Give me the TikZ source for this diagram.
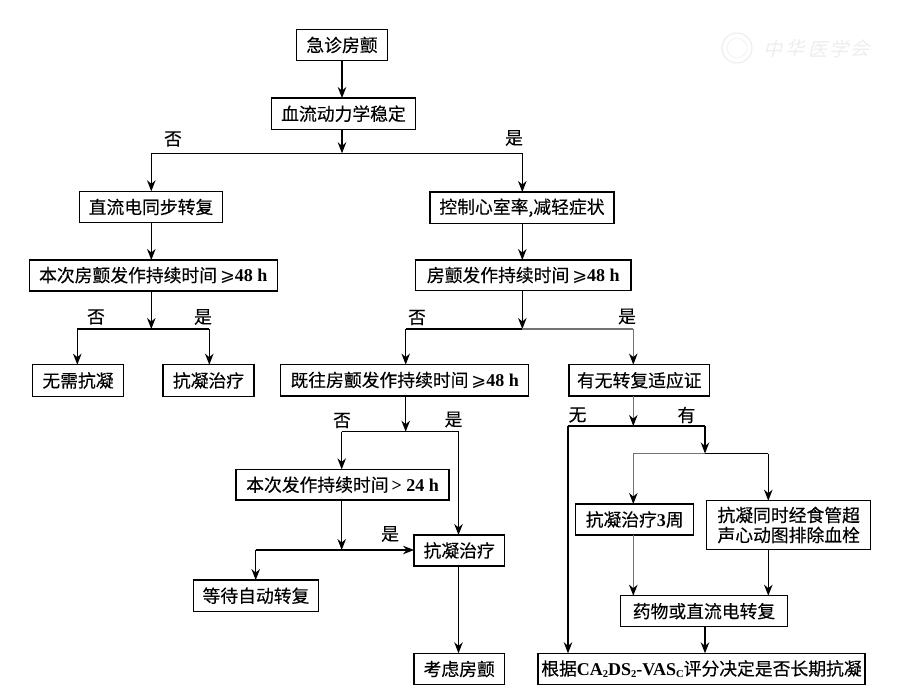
\documentclass[tikz,border=0pt]{standalone}
\usepackage{fontspec}
\usetikzlibrary{arrows.meta}
\newfontfamily\cjk[FakeBold=0.25]{Noto Sans CJK SC}
\newfontfamily\cjkwm{Noto Sans CJK SC}
\newfontfamily\latinb{Liberation Serif Bold}
\newfontfamily\symb{DejaVu Sans}
\newcommand{\la}[1]{{\fontsize{18}{20}\selectfont\latinb #1}}
\newcommand{\lasub}[1]{\raisebox{-2.5pt}{\fontsize{10.5}{12}\selectfont\latinb #1}}
\tikzset{
  x=1pt,y=-1pt,
  box/.style={draw=black,line width=1.3pt,fill=white,inner sep=0pt,outer sep=0pt,align=center,
    font=\fontsize{17.8}{20}\selectfont\cjk},
  lab/.style={inner sep=0pt,font=\fontsize{17.8}{20}\selectfont\cjk},
  wm/.style={inner sep=0pt,text=black!7,font=\fontsize{19}{20}\selectfont\cjkwm},
  ar/.style={-{Stealth[length=11pt,width=8.5pt,inset=3.5pt,color=black]}},
  thick line/.style={draw=black,line width=1.3pt},
  thin line/.style={draw=black,line width=1.05pt},
  gray line/.style={draw=black!55,line width=1.1pt},
}
\begin{document}
\begin{tikzpicture}
\useasboundingbox (0,0) rectangle (900,691);
% boxes
\node[box,minimum width=90.6pt,minimum height=31.4pt] (start) at (342,45) {急诊房颤};
\node[box,minimum width=143.6pt,minimum height=31.3pt] (hemo) at (343.5,113.7) {血流动力学稳定};
\node[box,minimum width=143.4pt,minimum height=31.4pt] (dc) at (151,207) {直流电同步转复};
\node[box,minimum width=184pt,minimum height=31.3pt] (rate) at (522,207.7) {控制心室率,减轻症状};
\node[box,minimum width=248pt,minimum height=31pt] (cur) at (153.3,275.5) {本次房颤发作持续时间\,{\symb ⩾}\la{48 h}};
\node[box,minimum width=215.3pt,minimum height=30.7pt] (af) at (523.3,275.4) {房颤发作持续时间\,{\symb ⩾}\la{48 h}};
\node[box,minimum width=90.6pt,minimum height=31.6pt] (noac) at (78,380.5) {无需抗凝};
\node[box,minimum width=91pt,minimum height=31.6pt] (ac1) at (208.5,380.5) {抗凝治疗};
\node[box,minimum width=248pt,minimum height=31.4pt] (past) at (404.7,380.3) {既往房颤发作持续时间\,{\symb ⩾}\la{48 h}};
\node[box,minimum width=140.7pt,minimum height=31.4pt] (ind) at (639.3,380.3) {有无转复适应证};
\node[box,minimum width=213pt,minimum height=30.7pt] (d24) at (342.5,484.7) {本次发作持续时间\,\la{> 24 h}};
\node[box,minimum width=90.3pt,minimum height=31pt] (ac2) at (459.2,550.5) {抗凝治疗};
\node[box,minimum width=125.4pt,minimum height=31.3pt] (wait) at (256,595.7) {等待自动转复};
\node[box,minimum width=90.3pt,minimum height=31.4pt] (cons) at (459.2,669) {考虑房颤};
\node[box,minimum width=118pt,minimum height=31pt] (ac3w) at (634.7,519.5) {抗凝治疗\la{3}周};
\node[box,minimum width=164pt,minimum height=48.6pt] (tee) at (788.7,525) {抗凝同时经食管超\\声心动图排除血栓};
\node[box,minimum width=166.6pt,minimum height=31pt] (conv) at (704,611.2) {药物或直流电转复};
\node[box,minimum width=327pt,minimum height=31.4pt] (score) at (701.5,669) {根据\la{CA}\lasub{2}\la{DS}\lasub{2}\la{-VAS}\lasub{C}评分决定是否长期抗凝};
% junctions
\coordinate (j1) at (342,153.3);
\coordinate (j1l) at (151.3,153.3);
\coordinate (j1r) at (522.3,153.3);
\coordinate (j2) at (151.3,329);
\coordinate (j2l) at (77.3,329);
\coordinate (j2r) at (209.3,329);
\coordinate (j3) at (522.3,329);
\coordinate (j3l) at (405.7,329);
\coordinate (j3r) at (633.3,329);
\coordinate (j4) at (405.7,431.7);
\coordinate (j4l) at (341.7,431.7);
\coordinate (j4r) at (458.5,431.7);
\coordinate (j5) at (341.7,550);
\coordinate (j5l) at (255.7,550);
\coordinate (j6) at (633.3,426);
\coordinate (j6l) at (568,426);
\coordinate (j6r) at (705,426);
\coordinate (j7) at (705,453.5);
\coordinate (j7l) at (633.3,453.5);
\coordinate (j7r) at (768.3,453.5);
% connectors
\draw[thick line,ar] (start.south -| j1) -- (hemo.north -| j1);
\draw[thick line,ar] (hemo.south -| j1) -- (j1);
\draw[thin line] (j1l) -- (j1r);
\draw[thick line,ar] (j1l) -- (dc.north -| j1l);
\draw[thin line,ar] (j1r) -- (rate.north -| j1r);
\draw[thick line,ar] (dc.south -| j1l) -- (cur.north -| j1l);
\draw[thick line,ar] (rate.south -| j1r) -- (af.north -| j1r);
\draw[thick line,ar] (cur.south -| j2) -- (j2);
\draw[thin line] (j2l) -- (j2r);
\draw[thick line,ar] (j2l) -- (noac.north -| j2l);
\draw[thick line,ar] (j2r) -- (ac1.north -| j2r);
\draw[thick line,ar] (af.south -| j3) -- (j3);
\draw[thin line] (j3l) -- (j3);
\draw[gray line] (j3) -- (j3r);
\draw[thick line,ar] (j3l) -- (past.north -| j3l);
\draw[gray line,ar] (j3r) -- (ind.north -| j3r);
\draw[thick line,ar] (past.south -| j4) -- (j4);
\draw[thick line] (j4l) -- (j4r);
\draw[thick line,ar] (j4l) -- (d24.north -| j4l);
\draw[thick line,ar] (j4r) -- (ac2.north -| j4r);
\draw[thick line,ar] (d24.south -| j5) -- (j5);
\draw[thin line,ar] (j5l) -- (ac2.west |- j5);
\draw[thick line,ar] (j5l) -- (wait.north -| j5l);
\draw[thick line,ar] (ac2.south -| j4r) -- (cons.north -| j4r);
\draw[gray line,ar] (ind.south -| j6) -- (j6);
\draw[thick line] (j6l) -- (j6r);
\draw[thick line,ar] (j6l) -- (score.north -| j6l);
\draw[thick line,ar] (j6r) -- (j7);
\draw[gray line] (j7l) -- (j7);
\draw[thin line] (j7) -- (j7r);
\draw[gray line,ar] (j7l) -- (ac3w.north -| j7l);
\draw[thin line,ar] (j7r) -- (tee.north -| j7r);
\draw[gray line,ar] (ac3w.south -| j7l) -- (conv.north -| j7l);
\draw[thick line,ar] (tee.south -| j7r) -- (conv.north -| j7r);
\draw[thick line,ar] (conv.south -| j7) -- (score.north -| j7);
% labels
\node[lab] (l1) at (173,139) {否};
\node[lab] (l2) at (514,138) {是};
\node[lab] (l3) at (96,317) {否};
\node[lab] (l4) at (203,317) {是};
\node[lab] (l5) at (417,317.5) {否};
\node[lab] (l6) at (627,316.5) {是};
\node[lab] (l7) at (342,420.5) {否};
\node[lab] (l8) at (453.5,419.5) {是};
\node[lab] (l9) at (390,534) {是};
\node[lab] (l10) at (577.5,415) {无};
\node[lab] (l11) at (686.5,415) {有};
% watermark
\draw[draw=black!8,line width=1pt] (737,48) circle (15);
\draw[draw=black!6,line width=0.8pt] (737,48) circle (10);
\node[wm,xslant=0.25] (w1) at (775,49) {中};
\node[wm,xslant=0.25] (w2) at (797,48) {华};
\node[wm,xslant=0.25] (w3) at (820,49) {医};
\node[wm,xslant=0.25] (w4) at (841,49) {学};
\node[wm,xslant=0.25] (w5) at (862,48) {会};
\end{tikzpicture}
\end{document}
